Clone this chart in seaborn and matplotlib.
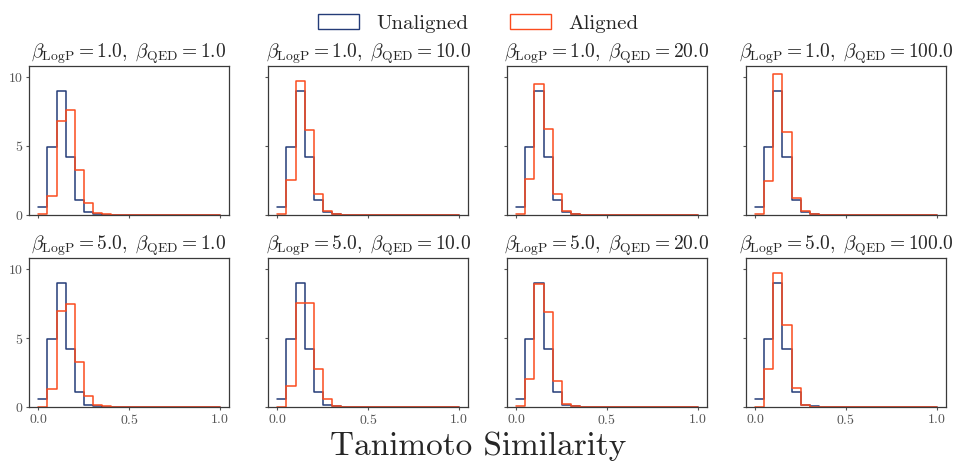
import numpy as np
import pandas as pd
import matplotlib.pyplot as plt
import seaborn as sns
from matplotlib.patches import Patch

# histogram densities (bin width 0.05, first 8 bins)
bin_edges = list(np.linspace(0, 1, 21))
bin_centers = np.linspace(0, 1, 21)[:8] + 0.025

unaligned = [0.55, 4.95, 9.0, 4.2, 1.06, 0.18, 0.05, 0.01]

beta_logp = [1.0, 1.0, 1.0, 1.0, 5.0, 5.0, 5.0, 5.0]
beta_qed = [1.0, 10.0, 20.0, 100.0, 1.0, 10.0, 20.0, 100.0]

aligned_1_1 = [0.02, 1.35, 6.83, 7.63, 3.26, 0.82, 0.15, 0.05]
aligned_1_10 = [0.02, 2.50, 9.70, 6.18, 1.50, 0.24, 0.05, 0.0]
aligned_1_20 = [0.02, 2.63, 9.50, 6.20, 1.52, 0.24, 0.03, 0.0]
aligned_1_100 = [0.02, 2.44, 10.25, 6.00, 1.25, 0.24, 0.02, 0.0]
aligned_5_1 = [0.02, 1.29, 6.98, 7.51, 3.24, 0.83, 0.15, 0.04]
aligned_5_10 = [0.02, 1.51, 7.56, 7.56, 2.78, 0.61, 0.10, 0.03]
aligned_5_20 = [0.05, 2.07, 8.95, 6.88, 1.88, 0.22, 0.04, 0.0]
aligned_5_100 = [0.02, 2.76, 9.73, 5.98, 1.41, 0.17, 0.02, 0.0]

aligned = [aligned_1_1, aligned_1_10, aligned_1_20, aligned_1_100,
           aligned_5_1, aligned_5_10, aligned_5_20, aligned_5_100]

c_unal = '#243c78'
c_al = '#fb4b1e'

sns.set_style('ticks')
plt.rcParams['font.family'] = 'serif'
plt.rcParams['font.serif'] = ['cmr10', 'DejaVu Serif']
plt.rcParams['mathtext.fontset'] = 'cm'
plt.rcParams['axes.formatter.use_mathtext'] = True
plt.rcParams['axes.unicode_minus'] = False

fig, axes = plt.subplots(2, 4, figsize=(9.56, 4.62), dpi=100, sharex=True, sharey=True)
fig.subplots_adjust(left=0.0307, right=0.9892, top=0.857, bottom=0.119,
                    wspace=0.198, hspace=0.293)

for i, ax in enumerate(axes.flat):
    df = pd.DataFrame({'x': np.concatenate([bin_centers, bin_centers]),
                       'w': unaligned + aligned[i],
                       'kind': ['Unaligned'] * 8 + ['Aligned'] * 8})
    for kind, col in [('Unaligned', c_unal), ('Aligned', c_al)]:
        sub = df[df.kind == kind]
        sns.histplot(data=sub, x='x', weights='w', bins=bin_edges, element='step',
                     fill=False, color=col, linewidth=1.1, ax=ax)
    ax.set_title(r'$\beta_{\mathrm{LogP}} = %.1f,\ \beta_{\mathrm{QED}} = %.1f$'
                 % (beta_logp[i], beta_qed[i]), fontsize=14, pad=4)
    ax.set_xlabel('')
    ax.set_ylabel('')
    ax.set_xticks([0.0, 0.5, 1.0])
    ax.set_yticks([0, 5, 10])
    ax.tick_params(length=2.5, width=0.8, labelsize=10, colors='#555555', pad=2)
    for sp in ax.spines.values():
        sp.set_color('#3a3a3a')
        sp.set_linewidth(0.9)

axes[0, 0].set_ylim(0, 10.8)

handles = [Patch(facecolor='none', edgecolor=c_unal, label='Unaligned'),
           Patch(facecolor='none', edgecolor=c_al, label='Aligned')]
fig.legend(handles=handles, loc='upper center', ncol=2, frameon=False,
           bbox_to_anchor=(0.5, 1.01), fontsize=15, handlelength=2.0,
           handleheight=0.7, columnspacing=2.0)
fig.supxlabel('Tanimoto Similarity', fontsize=24, y=0.002)

fig.savefig('out.png', dpi=100)
